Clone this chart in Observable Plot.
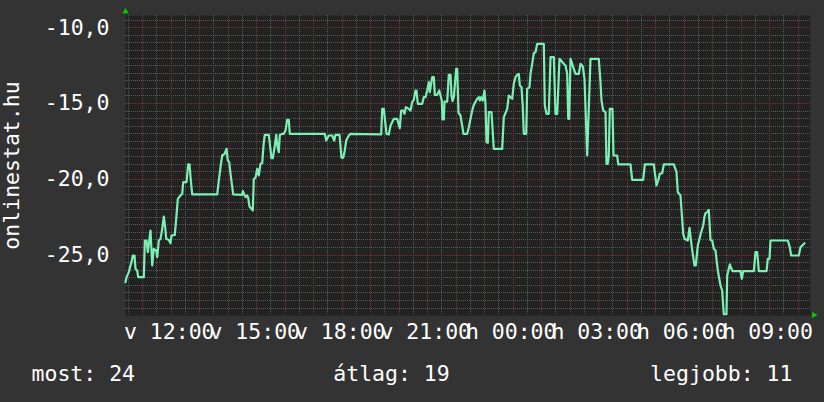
<!DOCTYPE html>
<html><head><meta charset="utf-8">
<script src="https://cdn.jsdelivr.net/npm/d3@7"></script>
<script src="https://cdn.jsdelivr.net/npm/@observablehq/plot@0.6"></script>
<style>
html,body{margin:0;padding:0;background:#333;}
#wrap{position:relative;width:824px;height:402px;overflow:hidden;background:#333;font-family:"DejaVu Sans Mono",monospace;color:#fff;}
#legend span{position:absolute;top:363px;font-size:21.5px;line-height:21.5px;white-space:pre;}
</style></head><body><div id="wrap"><div id="chart"></div><div id="legend"></div></div>
<script>
// decimal hours since Sunday 00:00 ("v" = vasárnap, "h" = hétfő)
const hours = [10.396,10.432,10.512,10.572,10.607,10.653,10.712,10.747,10.807,10.842,11.039,11.074,11.133,11.179,11.274,11.333,11.389,11.474,11.509,11.565,11.625,11.684,11.740,11.789,11.825,11.916,11.975,12.011,12.126,12.175,12.232,12.326,12.386,12.421,12.537,12.596,12.642,12.688,12.737,13.614,13.670,13.730,13.789,13.870,13.940,13.986,14.035,14.081,14.175,
14.491,14.512,14.607,14.667,14.702,14.747,14.818,14.863,14.898,14.958,15.018,15.074,15.133,15.193,15.249,15.284,15.425,15.519,15.565,15.635,15.684,15.730,15.775,15.811,15.895,15.951,16.011,16.070,16.126,16.161,17.389,17.439,17.530,17.649,17.719,17.765,17.905,17.975,18.035,18.091,18.140,18.232,18.291,
19.368,19.404,19.460,19.554,19.635,19.695,19.754,19.811,19.930,20.021,20.070,20.140,20.186,20.232,20.302,20.396,20.456,20.512,20.572,20.607,20.653,20.807,20.863,20.923,20.982,21.039,21.074,21.158,21.214,21.249,21.333,21.404,21.495,21.519,21.565,21.589,21.684,21.740,21.800,21.835,21.870,21.916,22.0,22.035,22.081,22.151,22.256,22.386,22.442,22.561,22.618,22.737,22.793,22.828,22.877,22.933,22.993,23.028,
23.063,23.109,23.144,23.239,23.319,23.614,23.670,23.789,23.846,23.965,24.021,24.081,24.140,24.196,24.232,24.291,24.337,24.372,24.456,24.491,24.572,24.607,24.667,24.723,24.782,24.842,25.074,25.109,25.168,25.249,25.309,25.425,25.484,25.544,25.625,25.775,25.835,25.895,25.930,25.965,26.011,26.126,26.186,26.302,26.361,26.442,26.502,26.596,26.712,27.003,
27.063,27.098,27.158,27.239,27.274,27.319,27.354,27.389,27.484,27.519,27.649,27.684,28.116,28.175,28.561,28.618,28.933,29.028,29.088,29.144,29.228,29.284,29.635,29.730,29.775,29.870,29.965,30.011,30.126,30.186,30.267,30.361,30.407,30.477,30.596,30.667,30.712,30.747,30.807,30.863,30.923,30.982,31.039,31.098,31.179,31.274,31.333,31.389,31.484,31.509,31.600,31.695,31.975,32.021,32.070,32.442,32.502,32.561,32.618,32.888,32.933,32.993,33.028,33.635,33.705,33.754,34.021,34.081,34.221];

const ranks = [-26.79,-26.46,-26.13,-25.69,-25.47,-25.03,-25.03,-25.91,-26.02,-26.46,-26.46,-24.04,-24.04,-24.81,-23.38,-25.69,-24.59,-24.70,-25.14,-24.04,-23.93,-23.27,-22.46,-23.16,-23.93,-24.0,-24.22,-23.71,-23.67,-22.61,-21.29,-21.07,-20.96,-20.19,-20.19,-19.02,-19.02,-20.08,-21.0,-21.0,-20.08,-19.2,-18.43,-18.32,-17.99,-18.76,-18.87,-19.64,-21.0,
-21.03,-20.78,-21.18,-21.07,-21.22,-21.80,-21.95,-22.06,-19.97,-19.9,-19.31,-19.75,-18.98,-18.94,-17.55,-17.07,-17.07,-18.61,-18.61,-17.77,-17.07,-17.88,-18.21,-17.07,-17.0,-17.0,-16.78,-16.08,-16.08,-17.0,-17.0,-17.44,-17.11,-17.11,-17.44,-17.07,-17.07,-18.58,-18.58,-18.10,-17.44,-17.11,-17.0,
-17.04,-15.35,-15.35,-17.0,-17.04,-16.45,-16.23,-16.01,-16.01,-16.63,-15.46,-15.46,-15.68,-15.24,-15.31,-15.46,-14.91,-14.76,-14.14,-14.14,-15.02,-15.02,-14.58,-14.58,-14.14,-13.59,-14.25,-13.26,-13.26,-14.43,-14.43,-14.14,-14.8,-16.05,-16.05,-14.87,-14.87,-13.11,-13.11,-14.47,-14.84,-14.58,-12.71,-12.71,-15.61,-15.79,-17.0,-17.0,-16.56,-15.46,-15.09,-14.69,-14.58,-14.8,-14.58,-14.8,-14.14,-15.02,
-17.55,-17.59,-15.57,-15.57,-17.99,-17.99,-15.9,-15.35,-14.47,-14.69,-13.70,-13.26,-13.11,-13.04,-13.81,-13.92,-15.24,-17.0,-17.0,-14.03,-13.92,-13.04,-12.38,-11.68,-11.61,-11.06,-11.06,-15.13,-15.68,-15.68,-11.94,-11.94,-15.68,-15.68,-12.05,-12.38,-12.49,-13.04,-16.01,-16.01,-12.05,-12.71,-13.04,-13.04,-12.38,-12.56,-13.37,-18.43,-12.05,-12.05,
-13.59,-14.8,-15.46,-15.57,-18.98,-18.98,-18.43,-15.35,-15.35,-18.43,-18.43,-19.02,-19.02,-20.04,-20.04,-19.02,-19.02,-20.41,-20.08,-19.64,-19.60,-19.02,-19.02,-19.53,-20.85,-21.07,-23.6,-23.93,-24.04,-23.21,-24.48,-25.69,-25.69,-24.37,-23.49,-23.05,-22.46,-22.24,-22.17,-22.02,-24.0,-24.04,-24.59,-24.70,-26.02,-27.01,-27.34,-28.9,-28.9,-26.35,-25.62,-26.06,-26.06,-26.57,-26.06,-26.06,-24.81,-24.81,-26.06,-26.06,-25.25,-25.25,-24.04,-24.04,-24.48,-25.03,-25.03,-24.48,-24.22];

const xTickHours = [12, 15, 18, 21, 24, 27, 30, 33];
const xTickLabels = ["v 12:00", "v 15:00", "v 18:00", "v 21:00", "h 00:00", "h 03:00", "h 06:00", "h 09:00"];
const yTicks = [-10, -15, -20, -25];
const yLabel = "onlinestat.hu";
const legendLabels = ["most: 24", "átlag: 19", "legjobb: 11"];
const xDomainHours = [10.396, 34.432];
const yDomain = [-28.99, -9.19];

const base = Date.UTC(2013, 2, 10);
const toDate = h => new Date(base + h * 3600e3);
const data = hours.map((h, i) => ({t: toDate(h), v: ranks[i]}));

const majorXH = d3.range(Math.ceil(xDomainHours[0]), xDomainHours[1], 1);
const minorXH = d3.range(Math.ceil(xDomainHours[0] * 2) / 2, xDomainHours[1], 0.5).filter(h => h % 1 !== 0);
const majorY = d3.range(-25, -9, 5);
const minorY = d3.range(-28.5, -9.1, 0.5).filter(v => v % 5 !== 0);
const labelMap = new Map(xTickHours.map((h, i) => [+toDate(h), xTickLabels[i]]));
const xStart = toDate(xDomainHours[0]), xEnd = toDate(xDomainHours[1]);

const gray = "#5c5c5c", red = "#7a3535";
const grid = {strokeDasharray: "1,1", shapeRendering: "crispEdges"};
const chart = Plot.plot({
  width: 824, height: 350,
  marginLeft: 125, marginRight: 14, marginTop: 15, marginBottom: 35,
  style: {background: "transparent", fontFamily: "'DejaVu Sans Mono', monospace", fontSize: "21.5px", color: "#fff", overflow: "visible"},
  x: {type: "utc", domain: [xStart, xEnd]},
  y: {domain: yDomain},
  marks: [
    Plot.frame({fill: "#222", stroke: null}),
    Plot.ruleY(minorY, {stroke: gray, ...grid}),
    Plot.ruleX(minorXH.map(toDate), {stroke: gray, ...grid}),
    Plot.ruleY(majorY, {stroke: red, ...grid}),
    Plot.ruleX(majorXH.map(toDate), {stroke: red, ...grid}),
    Plot.axisY({ticks: yTicks, tickFormat: d => d.toFixed(1).replace(".", ","), tickSize: 0, tickPadding: 16, label: null, fontSize: 21.5}),
    Plot.axisX({ticks: xTickHours.map(toDate), tickFormat: d => labelMap.get(+d), tickSize: 0, tickPadding: 8, label: null, fontSize: 21.5, dx: -2}),
    Plot.line(data, {x: "t", y: "v", stroke: "#7cf0b4", strokeWidth: 2.2}),
    Plot.text([yLabel], {frameAnchor: "left", rotate: -90, dx: -106.5, textAnchor: "middle", lineAnchor: "bottom", fill: "#fff", fontSize: 21.5}),
    Plot.dot([0], {x: () => xStart, y: () => yDomain[1], dy: -4, symbol: "triangle", r: 2.3, fill: "#00d000", stroke: null}),
    Plot.dot([0], {x: () => xEnd, y: () => yDomain[0], dx: 3.5, dy: -0.5, rotate: 90, symbol: "triangle", r: 2.3, fill: "#00d000", stroke: null})
  ]
});
document.getElementById("chart").appendChild(chart);

const legend = document.getElementById("legend");
const positions = [{left: "31.5px"}, {left: "391.5px", transform: "translateX(-50%)"}, {right: "31.5px"}];
legendLabels.forEach((txt, i) => {
  const s = document.createElement("span");
  s.textContent = txt;
  Object.assign(s.style, positions[i]);
  legend.appendChild(s);
});
</script>
</body></html>
